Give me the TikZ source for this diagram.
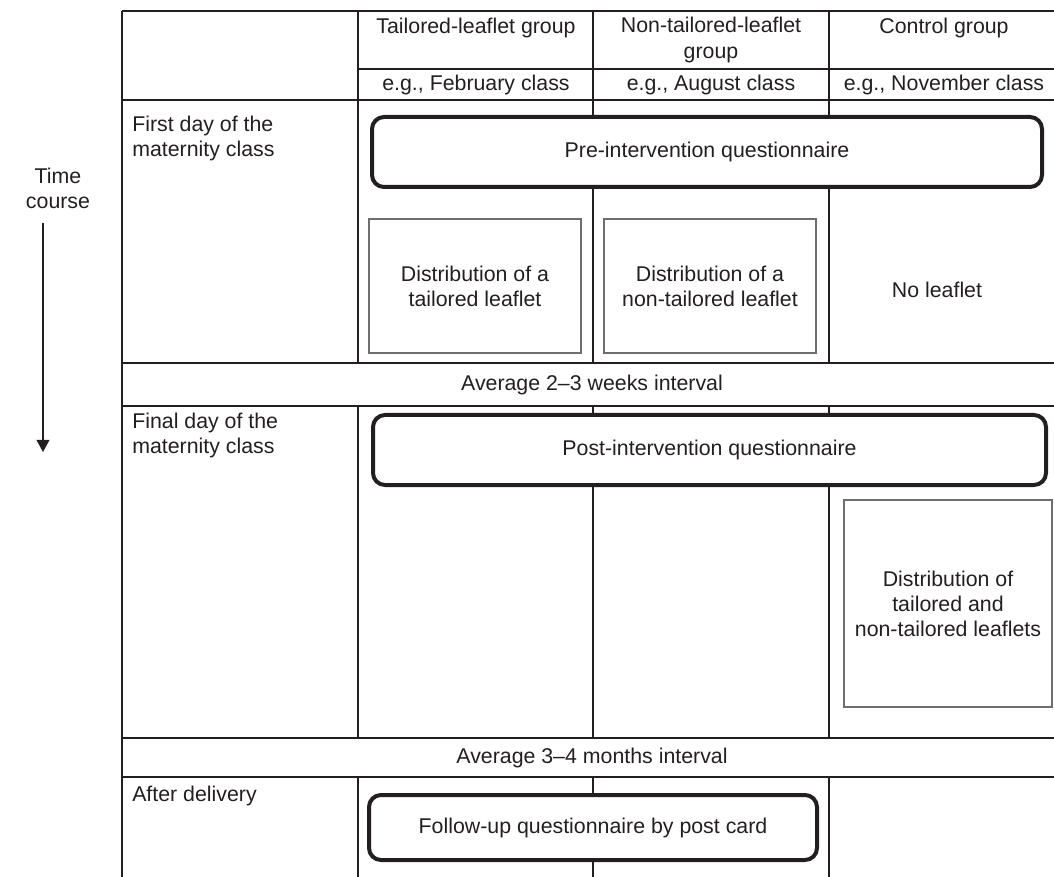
\documentclass[tikz,border=0pt]{standalone}
\usepackage{fontspec}
\setmainfont{Liberation Sans}
\usetikzlibrary{arrows.meta}
\definecolor{ink}{HTML}{231F20}
\definecolor{thin}{HTML}{6D6E71}
\begin{document}
\begin{tikzpicture}[x=0.75pt,y=-0.75pt,
  gridline/.style={line width=1.5pt, draw=ink},
  qbox/.style={draw=ink, line width=3pt, rounded corners=9pt, fill=white, inner sep=0pt},
  lbox/.style={draw=thin, line width=0.8pt, fill=white, inner sep=0pt},
  txt/.style={font=\fontsize{16}{18.8}\selectfont, text=ink, align=center, inner sep=0pt},
  ltxt/.style={txt, align=left, anchor=north west},
  ]
\useasboundingbox (0,0) rectangle (1054,877);
\begin{scope}
\clip (0,0) rectangle (1054,877);
% table grid
\draw[gridline] (122,11) -- (1070,11);
\draw[gridline] (358,69) -- (1070,69);
\foreach \yy in {100,363,406,738,777}
  \draw[gridline] (122,\yy) -- (1070,\yy);
\draw[gridline] (122,11) -- (122,890);
\foreach \xx in {358,593,829} {
  \draw[gridline] (\xx,11) -- (\xx,363);
  \draw[gridline] (\xx,406) -- (\xx,738);
  \draw[gridline] (\xx,777) -- (\xx,890);
}
\end{scope}

% header texts
\node[txt] (h1) at (476,28) {Tailored-leaflet group};
\node[txt] (h2) at (711,40) {Non-tailored-leaflet\\group};
\node[txt] (h3) at (944,28) {Control group};
\node[txt] (s1) at (476,85) {e.g., February class};
\node[txt] (s2) at (711,85) {e.g., August class};
\node[txt] (s3) at (944,85) {e.g., November class};

% row labels
\node[ltxt] (r1) at (132,116) {First day of the\\maternity class};
\node[ltxt] (r2) at (132,413) {Final day of the\\maternity class};
\node[ltxt] (r3) at (132,786) {After delivery};
\node[txt] (i1) at (592,385) {Average 2--3 weeks interval};
\node[txt] (i2) at (592,758) {Average 3--4 months interval};

% time course
\node[txt] (tc) at (58,188) {Time\\course};
\coordinate (ta) at (43,223);
\coordinate (tb) at (43,452);
\draw[draw=ink, line width=1.1pt, -{Triangle[length=9pt,width=9.5pt]}] (ta) -- (tb);

% boxes
\node[qbox, txt, minimum width=502.5pt, minimum height=52.5pt] (pre) at (707,152) {Pre-intervention questionnaire};
\node[lbox, txt, minimum width=159pt, minimum height=100.5pt] (l1) at (475,286) {Distribution of a\\tailored leaflet};
\node[lbox, txt, minimum width=159pt, minimum height=100.5pt] (l2) at (710,286) {Distribution of a\\non-tailored leaflet};
\node[txt] (nl) at (937,290) {No leaflet};
\node[qbox, txt, minimum width=504.75pt, minimum height=52.5pt] (post) at (709.5,450) {Post-intervention questionnaire};
\node[lbox, txt, minimum width=156pt, minimum height=155.25pt] (l3) at (948,603.5) {Distribution of\\tailored and\\non-tailored leaflets};
\node[qbox, txt, minimum width=336pt, minimum height=48.75pt] (fu) at (593,827.5) {Follow-up questionnaire by post card};
\end{tikzpicture}
\end{document}
